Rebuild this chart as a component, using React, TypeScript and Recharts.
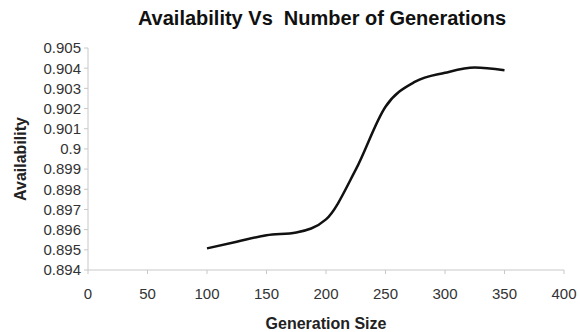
import React from "react";
import { LineChart, Line, XAxis, YAxis, Label } from "recharts";

const generationSize = [100, 125, 150, 175, 200, 225, 250, 275, 300, 325, 350];
const availability = [
  0.89507, 0.8954, 0.89572, 0.89586, 0.89651, 0.89897, 0.90209, 0.90333, 0.90377, 0.90403, 0.9039,
];
const xTicks = [0, 50, 100, 150, 200, 250, 300, 350, 400];
const yTicks = [
  0.894, 0.895, 0.896, 0.897, 0.898, 0.899, 0.9, 0.901, 0.902, 0.903, 0.904, 0.905,
];

const data = generationSize.map((g, i) => ({ g, a: availability[i] }));

const FONT = "'Liberation Sans', Arial, sans-serif";
const tickStyle = { fontSize: 15, fill: "#333", fontFamily: FONT };
const titleStyle = { fontSize: 16, fontWeight: "bold", fill: "#222", fontFamily: FONT };

const App: React.FC = () => {
  return (
    <div style={{ position: "absolute", left: 0, top: 0, width: 580, height: 332, background: "#fff" }}>
      <div
        style={{
          position: "absolute",
          left: 0,
          width: 644,
          top: 6,
          textAlign: "center",
          fontFamily: FONT,
          fontWeight: "bold",
          fontSize: 20,
          lineHeight: "24px",
          color: "#111",
          whiteSpace: "pre",
        }}
      >
        {"Availability Vs  Number of Generations"}
      </div>
      <LineChart width={580} height={332} data={data} margin={{ top: 48, right: 16, left: 8, bottom: 2 }}>
        <XAxis
          dataKey="g"
          type="number"
          domain={[0, 400]}
          ticks={xTicks}
          interval={0}
          tick={tickStyle}
          tickSize={4}
          tickMargin={14}
          stroke="#c8c8c8"
          height={60}
        >
          <Label value="Generation Size" position="insideBottom" offset={1} style={titleStyle} />
        </XAxis>
        <YAxis
          type="number"
          domain={[0.894, 0.905]}
          ticks={yTicks}
          interval={0}
          tick={tickStyle}
          tickSize={4}
          tickMargin={3}
          stroke="#c8c8c8"
          width={80}
          allowDataOverflow
        >
          <Label
            content={({ viewBox }: any) => {
              const cx = viewBox.x + 12;
              const cy = viewBox.y + viewBox.height / 2;
              return (
                <text
                  x={cx}
                  y={cy}
                  transform={`rotate(-90, ${cx}, ${cy})`}
                  textAnchor="middle"
                  dominantBaseline="central"
                  style={titleStyle}
                >
                  Availability
                </text>
              );
            }}
          />
        </YAxis>
        <Line
          type="monotone"
          dataKey="a"
          stroke="#111"
          strokeWidth={2.5}
          dot={false}
          isAnimationActive={false}
        />
      </LineChart>
    </div>
  );
};

export default App;
